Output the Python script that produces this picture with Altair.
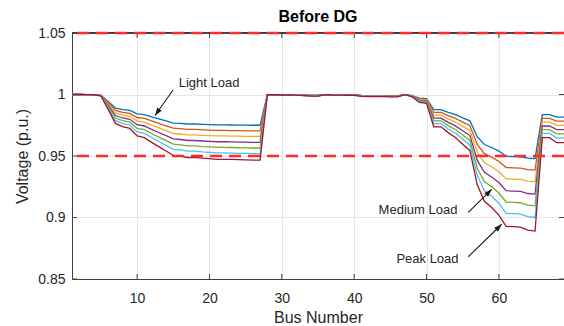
import altair as alt
import pandas as pd

FONT = "Liberation Sans"

bus = list(range(1, 70))
series_names = ["s1", "s2", "s3", "s4", "s5", "s6", "s7"]
colors = ["#0072BD", "#D95319", "#EDB120", "#7E2F8E", "#77AC30", "#4DBEEE", "#A2142F"]

v1 = [1.0000, 1.0000, 0.9999, 0.9999, 0.9994, 0.9943, 0.9890, 0.9877, 0.9871, 0.9842,
      0.9836, 0.9818, 0.9801, 0.9785, 0.9768, 0.9765, 0.9760, 0.9760, 0.9757, 0.9755,
      0.9753, 0.9753, 0.9752, 0.9751, 0.9751, 0.9750, 0.9750, 0.9999, 0.9999, 0.9998,
      0.9998, 0.9998, 0.9996, 0.9994, 0.9994, 0.9999, 0.9998, 0.9998, 0.9997, 0.9997,
      0.9993, 0.9991, 0.9991, 0.9991, 0.9991, 0.9991, 0.9999, 0.9991, 0.9970, 0.9966,
      0.9877, 0.9877, 0.9855, 0.9836, 0.9810, 0.9786, 0.9657, 0.9593, 0.9569, 0.9540,
      0.9497, 0.9496, 0.9494, 0.9483, 0.9480, 0.9836, 0.9836, 0.9816, 0.9816]
v2 = [1.0000, 1.0000, 0.9999, 0.9999, 0.9993, 0.9933, 0.9870, 0.9855, 0.9847, 0.9813,
      0.9806, 0.9785, 0.9765, 0.9745, 0.9726, 0.9722, 0.9716, 0.9716, 0.9713, 0.9711,
      0.9708, 0.9708, 0.9707, 0.9706, 0.9705, 0.9705, 0.9705, 0.9999, 0.9999, 0.9998,
      0.9998, 0.9997, 0.9995, 0.9993, 0.9993, 0.9999, 0.9998, 0.9997, 0.9997, 0.9997,
      0.9992, 0.9990, 0.9990, 0.9990, 0.9989, 0.9989, 0.9999, 0.9990, 0.9964, 0.9960,
      0.9854, 0.9854, 0.9828, 0.9806, 0.9776, 0.9747, 0.9595, 0.9519, 0.9491, 0.9456,
      0.9406, 0.9404, 0.9402, 0.9389, 0.9385, 0.9806, 0.9806, 0.9783, 0.9783]
v3 = [1.0000, 1.0000, 0.9999, 0.9998, 0.9992, 0.9923, 0.9850, 0.9833, 0.9823, 0.9784,
      0.9776, 0.9751, 0.9729, 0.9706, 0.9683, 0.9679, 0.9672, 0.9672, 0.9668, 0.9666,
      0.9663, 0.9663, 0.9662, 0.9661, 0.9660, 0.9659, 0.9659, 0.9999, 0.9998, 0.9998,
      0.9998, 0.9997, 0.9995, 0.9992, 0.9991, 0.9999, 0.9998, 0.9997, 0.9996, 0.9996,
      0.9991, 0.9988, 0.9988, 0.9988, 0.9988, 0.9988, 0.9998, 0.9988, 0.9959, 0.9954,
      0.9832, 0.9832, 0.9801, 0.9776, 0.9741, 0.9708, 0.9532, 0.9445, 0.9412, 0.9372,
      0.9314, 0.9312, 0.9310, 0.9295, 0.9290, 0.9776, 0.9776, 0.9749, 0.9749]
v4 = [1.0000, 1.0000, 0.9999, 0.9998, 0.9991, 0.9912, 0.9829, 0.9809, 0.9798, 0.9754,
      0.9744, 0.9716, 0.9691, 0.9665, 0.9639, 0.9634, 0.9626, 0.9626, 0.9622, 0.9619,
      0.9616, 0.9616, 0.9615, 0.9613, 0.9612, 0.9611, 0.9611, 0.9999, 0.9998, 0.9997,
      0.9997, 0.9996, 0.9994, 0.9991, 0.9990, 0.9999, 0.9997, 0.9996, 0.9996, 0.9996,
      0.9989, 0.9987, 0.9987, 0.9987, 0.9986, 0.9986, 0.9998, 0.9987, 0.9953, 0.9947,
      0.9808, 0.9808, 0.9773, 0.9745, 0.9705, 0.9666, 0.9466, 0.9367, 0.9329, 0.9284,
      0.9218, 0.9215, 0.9212, 0.9195, 0.9190, 0.9744, 0.9744, 0.9714, 0.9714]
v5 = [1.0000, 1.0000, 0.9999, 0.9998, 0.9990, 0.9901, 0.9809, 0.9787, 0.9775, 0.9725,
      0.9714, 0.9683, 0.9654, 0.9625, 0.9596, 0.9591, 0.9582, 0.9582, 0.9577, 0.9574,
      0.9570, 0.9570, 0.9569, 0.9567, 0.9566, 0.9565, 0.9565, 0.9999, 0.9998, 0.9997,
      0.9997, 0.9996, 0.9993, 0.9990, 0.9989, 0.9999, 0.9997, 0.9996, 0.9995, 0.9995,
      0.9988, 0.9985, 0.9985, 0.9985, 0.9984, 0.9984, 0.9998, 0.9985, 0.9947, 0.9941,
      0.9786, 0.9786, 0.9747, 0.9715, 0.9670, 0.9627, 0.9403, 0.9292, 0.9250, 0.9199,
      0.9126, 0.9123, 0.9120, 0.9101, 0.9095, 0.9714, 0.9714, 0.9680, 0.9680]
v6 = [1.0000, 1.0000, 0.9999, 0.9998, 0.9989, 0.9891, 0.9789, 0.9764, 0.9751, 0.9696,
      0.9684, 0.9650, 0.9618, 0.9586, 0.9554, 0.9549, 0.9539, 0.9539, 0.9533, 0.9530,
      0.9525, 0.9525, 0.9524, 0.9522, 0.9521, 0.9520, 0.9520, 0.9999, 0.9998, 0.9997,
      0.9997, 0.9996, 0.9992, 0.9989, 0.9988, 0.9999, 0.9997, 0.9996, 0.9995, 0.9995,
      0.9987, 0.9984, 0.9984, 0.9984, 0.9982, 0.9982, 0.9998, 0.9984, 0.9942, 0.9935,
      0.9763, 0.9763, 0.9720, 0.9685, 0.9636, 0.9588, 0.9341, 0.9218, 0.9172, 0.9116,
      0.9034, 0.9031, 0.9028, 0.9007, 0.9000, 0.9684, 0.9684, 0.9647, 0.9647]
v7 = [1.0000, 1.0000, 0.9999, 0.9998, 0.9988, 0.9879, 0.9765, 0.9739, 0.9724, 0.9663,
      0.9649, 0.9611, 0.9576, 0.9541, 0.9505, 0.9499, 0.9488, 0.9488, 0.9482, 0.9478,
      0.9473, 0.9473, 0.9472, 0.9470, 0.9468, 0.9467, 0.9467, 0.9999, 0.9998, 0.9996,
      0.9996, 0.9995, 0.9991, 0.9988, 0.9987, 0.9999, 0.9996, 0.9995, 0.9994, 0.9994,
      0.9985, 0.9982, 0.9982, 0.9982, 0.9980, 0.9980, 0.9998, 0.9982, 0.9935, 0.9928,
      0.9737, 0.9737, 0.9690, 0.9650, 0.9596, 0.9543, 0.9268, 0.9132, 0.9081, 0.9019,
      0.8928, 0.8925, 0.8921, 0.8898, 0.8890, 0.9649, 0.9649, 0.9608, 0.9608]

x_ticks = [10, 20, 30, 40, 50, 60]
y_ticks = [0.85, 0.9, 0.95, 1.0, 1.05]
limits = [0.95, 1.05]

ann_labels = ["Light Load", "Medium Load", "Peak Load"]
ann_x = [19.94, 48.82, 50.13]
ann_y = [1.0093, 0.9061, 0.8659]

arrow_x = [14.96, 55.77, 55.77]
arrow_y = [1.0037, 0.9042, 0.8681]
arrow_x2 = [12.47, 59.01, 60.39]
arrow_y2 = [0.9829, 0.9229, 0.8945]
arrow_angle = [215, 45, 46]

rows = []
for name, vals in zip(series_names, [v1, v2, v3, v4, v5, v6, v7]):
    for b, v in zip(bus, vals):
        rows.append({"bus": b, "v": v, "series": name})
df = pd.DataFrame(rows)

W, H = 492, 246
xs = alt.Scale(domain=[1, 69], nice=False, zero=False)
ys = alt.Scale(domain=[0.85, 1.05], nice=False, zero=False)
AX = "#404040"

x_axis = alt.Axis(values=x_ticks, title="Bus Number", labelPadding=12, titlePadding=4)
y_axis = alt.Axis(values=y_ticks, format=".2~f", title="Voltage (p.u.)",
                  labelPadding=7, titlePadding=7)

def X(f):
    return alt.X(f, scale=xs, axis=x_axis)

def Y(f):
    return alt.Y(f, scale=ys, axis=y_axis)

lines = alt.Chart(df).mark_line(strokeWidth=1.3, clip=True).encode(
    x=X("bus:Q"),
    y=Y("v:Q"),
    color=alt.Color("series:N", scale=alt.Scale(domain=series_names, range=colors), legend=None),
)

xt = pd.DataFrame({"t": x_ticks})
yt = pd.DataFrame({"t": y_ticks})
tick_bottom = alt.Chart(xt).mark_rule(color=AX).encode(
    x=X("t:Q"), y=alt.value(H), y2=alt.value(H - 5))
tick_top = alt.Chart(xt).mark_rule(color=AX).encode(
    x=X("t:Q"), y=alt.value(0), y2=alt.value(5))
tick_left = alt.Chart(yt).mark_rule(color=AX).encode(
    y=Y("t:Q"), x=alt.value(0), x2=alt.value(5))
tick_right = alt.Chart(yt).mark_rule(color=AX).encode(
    y=Y("t:Q"), x=alt.value(W - 5), x2=alt.value(W))
top_border = alt.Chart(xt).mark_rule(color=AX).encode(
    x=alt.value(0), x2=alt.value(W), y=alt.value(0))

lim_df = pd.DataFrame({"lim": limits})
dashed = alt.Chart(lim_df).mark_rule(color="#ff2a2a", strokeWidth=2.5, strokeDash=[12, 7]).encode(
    y=Y("lim:Q"))

ann_df = pd.DataFrame({"label": ann_labels, "x": ann_x, "y": ann_y})
ann_text = alt.Chart(ann_df).mark_text(font=FONT, fontSize=13, color="#262626",
                                       align="center", baseline="middle").encode(
    x=X("x:Q"), y=Y("y:Q"), text="label:N")

arr_df = pd.DataFrame({"x": arrow_x, "y": arrow_y, "x2": arrow_x2, "y2": arrow_y2,
                       "ang": arrow_angle})
shafts = alt.Chart(arr_df).mark_rule(color="#1a1a1a", strokeWidth=1.1).encode(
    x=X("x:Q"), y=Y("y:Q"), x2="x2:Q", y2="y2:Q")
heads = alt.Chart(arr_df).mark_point(shape="M0,0 L-0.9,2.6 L0.9,2.6 Z", filled=True,
                                     size=36, color="#1a1a1a", opacity=1).encode(
    x=X("x2:Q"), y=Y("y2:Q"), angle=alt.Angle("ang:Q", scale=None))

chart = alt.layer(
    lines, tick_bottom, tick_top, tick_left, tick_right, top_border, dashed,
    shafts, heads, ann_text
).properties(
    width=W, height=H,
    background="white",
    title=alt.TitleParams("Before DG", font=FONT, fontSize=16, fontWeight="bold",
                          color="#000000", anchor="middle", offset=1),
    padding={"left": 72, "top": 33, "right": 0, "bottom": 47},
    autosize="none",
).configure_view(stroke=None).configure_axis(
    grid=True, ticks=False, tickSize=0, labelFontSize=14, titleFontSize=16,
    labelFont=FONT, titleFont=FONT, labelColor="#262626", titleColor="#262626",
    titleFontWeight="normal", domainColor=AX, gridColor="#e6e6e6",
)

chart.save("out.html", embed_options={"renderer": "svg", "actions": False})
